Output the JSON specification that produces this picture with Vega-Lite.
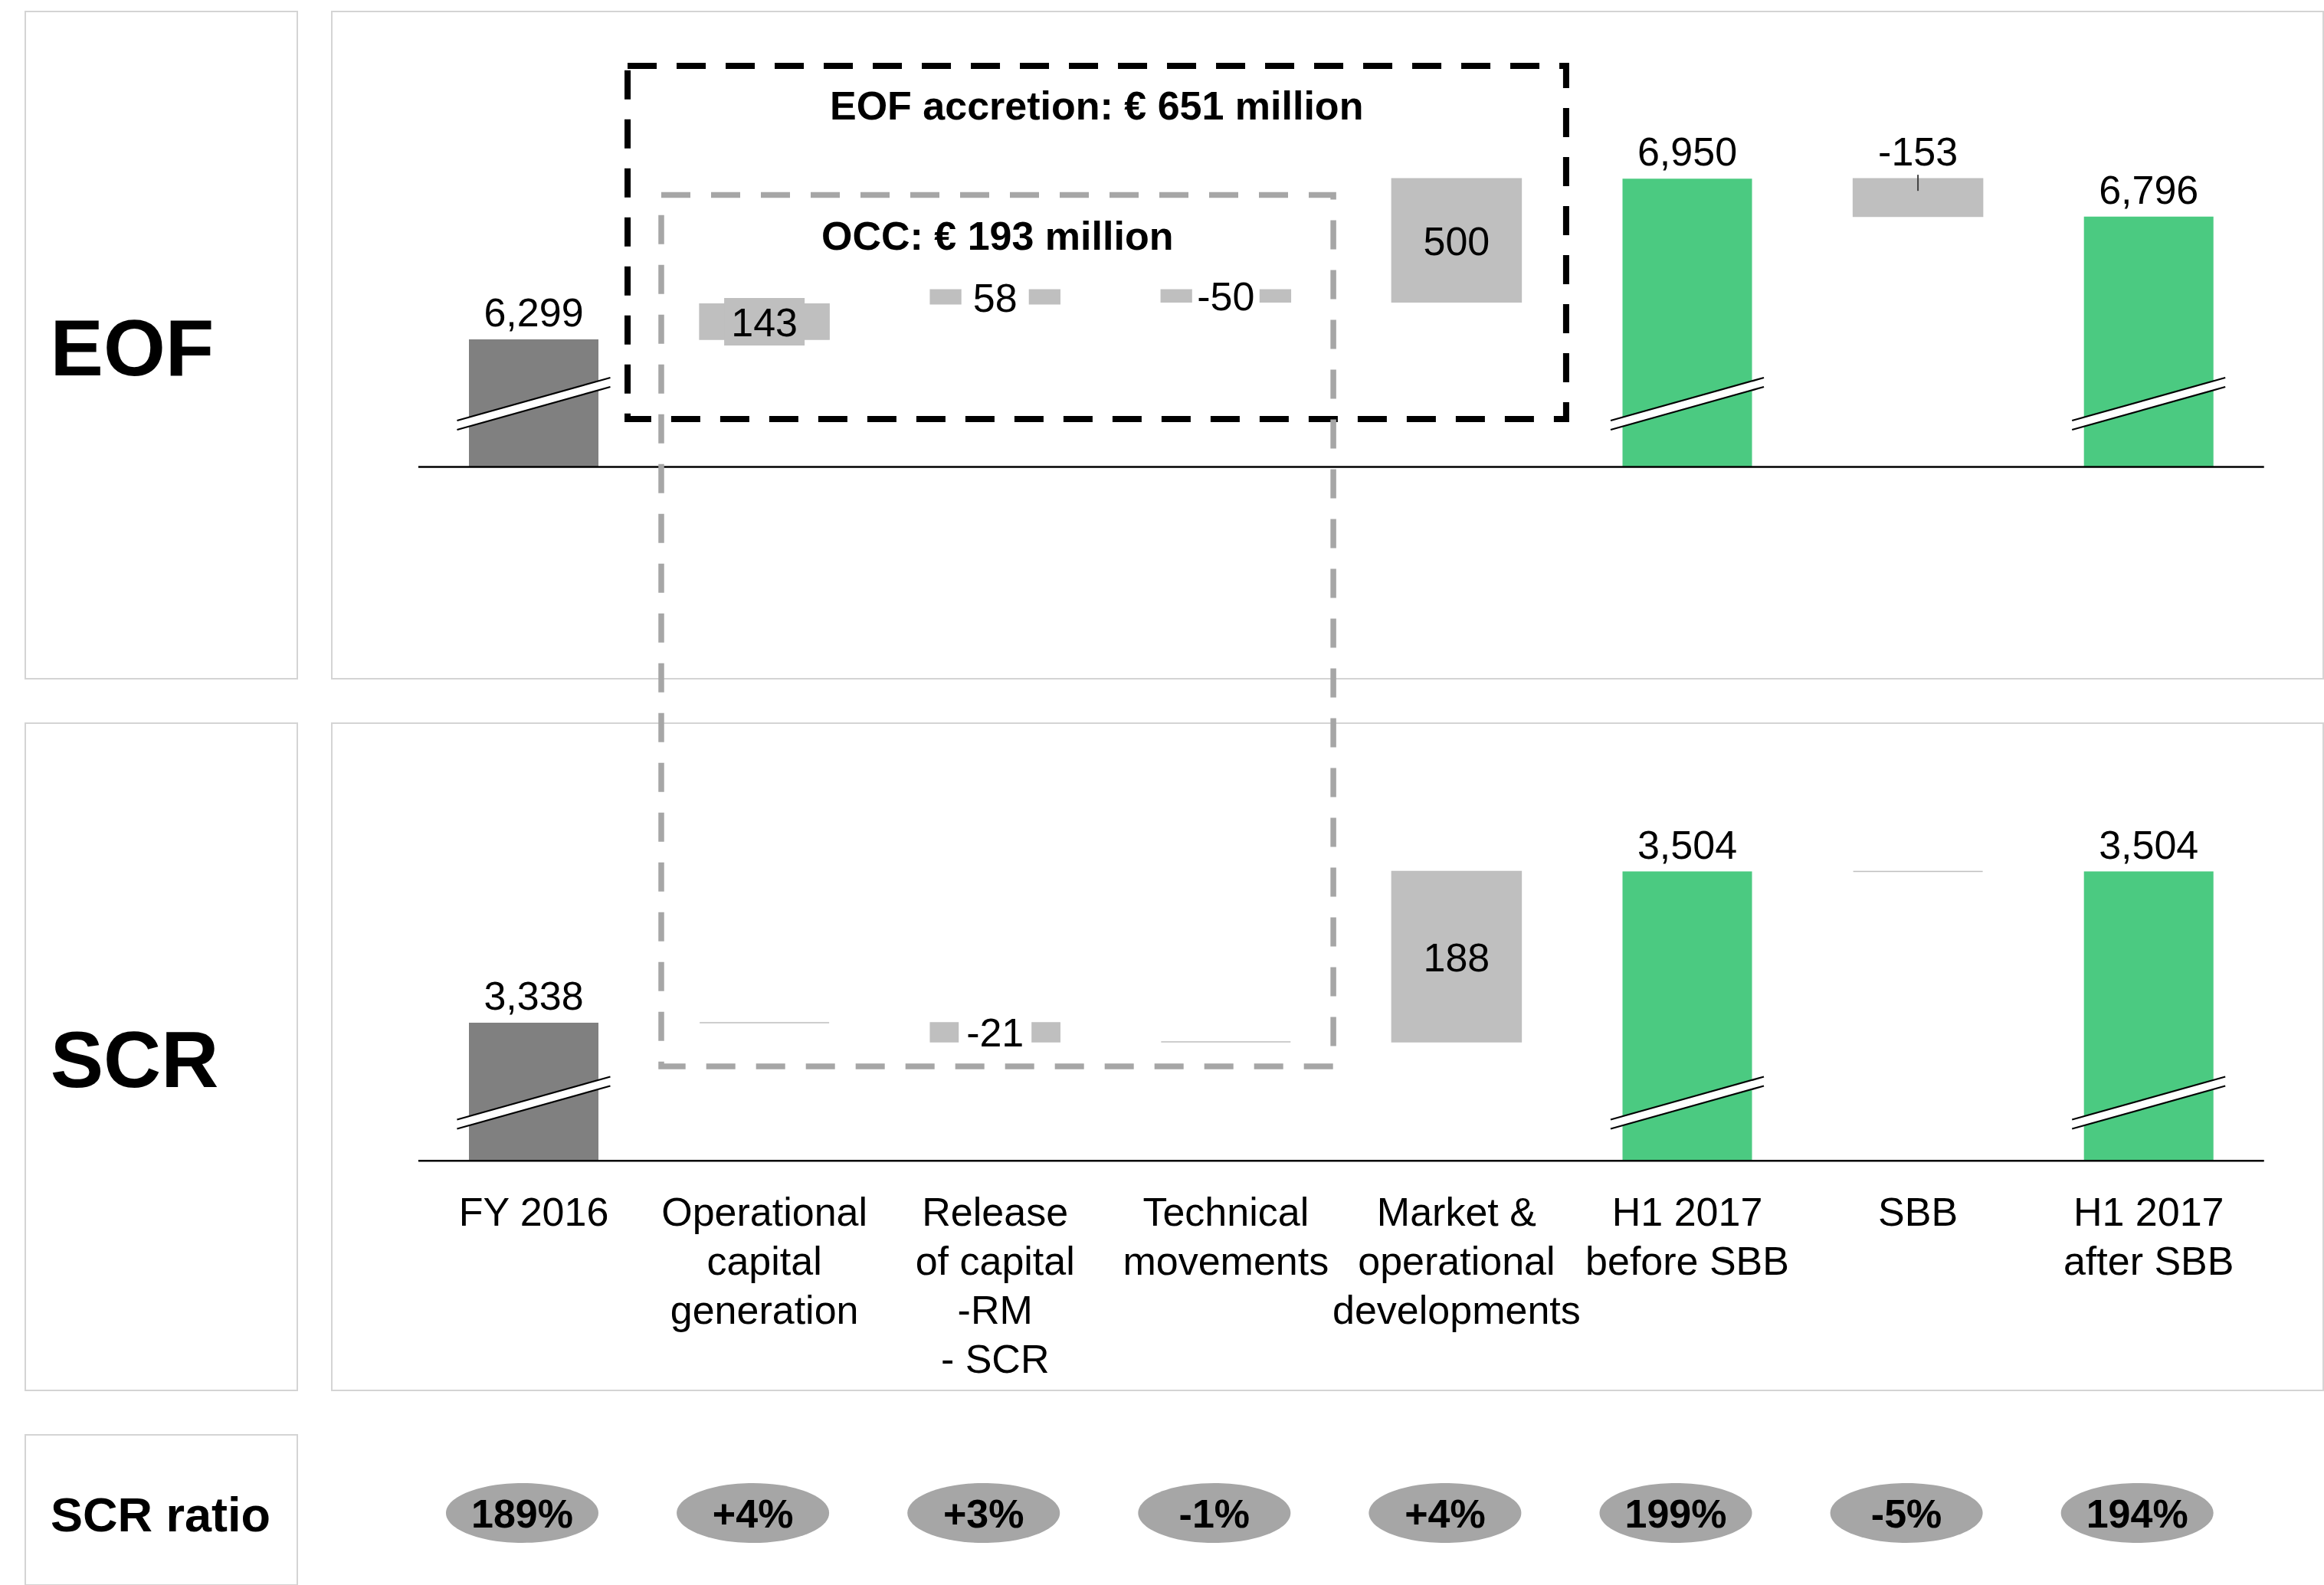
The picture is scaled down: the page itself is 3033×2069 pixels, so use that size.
{
"$schema": "https://vega.github.io/schema/vega-lite/v6.json",
"background": "white",
"padding": {"left": 32, "top": 14, "right": 0, "bottom": 0},
"autosize": {"type": "pad"},
"bounds": "flush",
"columns": 2,
"spacing": {"row": 58, "column": 45},
"config": {
  "view": {"stroke": "#d4d4d4", "strokeWidth": 2, "fill": "white"},
  "font": "Liberation Sans",
  "locale": {"number": {"decimal": ".", "thousands": ",", "grouping": [3], "currency": ["$", ""], "minus": "-"}}
},
"datasets": {
  "eof": [
    {"i": 0, "cat": "FY 2016", "type": "total", "value": 6299},
    {"i": 1, "cat": "Operational\ncapital\ngeneration", "type": "delta", "value": 143, "start": 6299, "end": 6442},
    {"i": 2, "cat": "Release\nof capital\n-RM\n- SCR", "type": "delta", "value": 58, "start": 6442, "end": 6500},
    {"i": 3, "cat": "Technical\nmovements", "type": "delta", "value": -50, "start": 6500, "end": 6450},
    {"i": 4, "cat": "Market &\noperational\ndevelopments", "type": "delta", "value": 500, "start": 6450, "end": 6950},
    {"i": 5, "cat": "H1 2017\nbefore SBB", "type": "total", "value": 6950},
    {"i": 6, "cat": "SBB", "type": "delta", "value": -153, "start": 6950, "end": 6797},
    {"i": 7, "cat": "H1 2017\nafter SBB", "type": "total", "value": 6796}
  ],
  "scr": [
    {"i": 0, "cat": "FY 2016", "type": "total", "value": 3338},
    {"i": 1, "cat": "Operational\ncapital\ngeneration", "type": "delta", "value": 0, "start": 3338, "end": 3338},
    {"i": 2, "cat": "Release\nof capital\n-RM\n- SCR", "type": "delta", "value": -21, "start": 3338, "end": 3317},
    {"i": 3, "cat": "Technical\nmovements", "type": "delta", "value": 0, "start": 3317, "end": 3317},
    {"i": 4, "cat": "Market &\noperational\ndevelopments", "type": "delta", "value": 188, "start": 3317, "end": 3504},
    {"i": 5, "cat": "H1 2017\nbefore SBB", "type": "total", "value": 3504},
    {"i": 6, "cat": "SBB", "type": "delta", "value": 0, "start": 3504, "end": 3504},
    {"i": 7, "cat": "H1 2017\nafter SBB", "type": "total", "value": 3504}
  ],
  "ratio": [
    {"i": 0, "cat": "FY 2016", "type": "total", "ratio": 1.89},
    {"i": 1, "cat": "Operational\ncapital\ngeneration", "type": "delta", "ratio": 0.04},
    {"i": 2, "cat": "Release\nof capital\n-RM\n- SCR", "type": "delta", "ratio": 0.03},
    {"i": 3, "cat": "Technical\nmovements", "type": "delta", "ratio": -0.01},
    {"i": 4, "cat": "Market &\noperational\ndevelopments", "type": "delta", "ratio": 0.04},
    {"i": 5, "cat": "H1 2017\nbefore SBB", "type": "total", "ratio": 1.99},
    {"i": 6, "cat": "SBB", "type": "delta", "ratio": -0.05},
    {"i": 7, "cat": "H1 2017\nafter SBB", "type": "total", "ratio": 1.94}
  ],
  "notes": [
    {"panel": "eof", "kind": "box", "title": "EOF accretion: € 651 million", "x1": 0.407, "x2": 4.475, "y1": 5976, "y2": 7407, "tx": 2.44, "ty": 7239},
    {"panel": "eof", "kind": "title", "title": "OCC: € 193 million", "tx": 2.01, "ty": 6713},
    {"panel": "scr", "kind": "box", "title": "OCC", "x1": 0.553, "x2": 3.466, "y1": 3290, "y2": 4247}
  ]
},
"concat": [
  {
    "width": 355, "height": 871,
    "data": {"values": [{"panel": "EOF"}]},
    "mark": {"type": "text", "fontSize": 104, "fontWeight": "bold", "color": "black", "baseline": "middle", "dx": -38, "dy": 8},
    "encoding": {
      "x": {"field": "panel", "type": "nominal", "axis": null},
      "y": {"field": "panel", "type": "nominal", "axis": null},
      "text": {"field": "panel", "type": "nominal"}
    }
  },
  {
    "width": 2599, "height": 871,
    "resolve": {"scale": {"x": "independent"}},
    "layer": [
      {
        "data": {"name": "eof"},
        "transform": [{"filter": "datum.type == 'total'"}],
        "mark": {"type": "bar"},
        "encoding": {
          "x": {"field": "cat", "type": "nominal", "axis": null, "scale": {"type": "band", "domain": ["FY 2016", "Operational\ncapital\ngeneration", "Release\nof capital\n-RM\n- SCR", "Technical\nmovements", "Market &\noperational\ndevelopments", "H1 2017\nbefore SBB", "SBB", "H1 2017\nafter SBB"], "paddingInner": 0.4387, "paddingOuter": 0.5352, "align": 0.5554, "round": false}},
          "y": {"field": "value", "type": "quantitative", "axis": null, "scale": {"domain": [4924, 7627], "nice": false, "zero": false}},
          "y2": {"datum": 5782},
          "color": {"condition": {"test": "datum.i == 0", "value": "#808080"}, "value": "#4bca81"}
        }
      },
      {
        "data": {"name": "eof"},
        "transform": [{"filter": "datum.type == 'delta'"}],
        "mark": {"type": "bar", "color": "#bfbfbf", "stroke": "#bfbfbf", "strokeWidth": 1.5},
        "encoding": {
          "x": {"field": "cat", "type": "nominal", "axis": null, "scale": {"type": "band", "domain": ["FY 2016", "Operational\ncapital\ngeneration", "Release\nof capital\n-RM\n- SCR", "Technical\nmovements", "Market &\noperational\ndevelopments", "H1 2017\nbefore SBB", "SBB", "H1 2017\nafter SBB"], "paddingInner": 0.4387, "paddingOuter": 0.5352, "align": 0.5554, "round": false}},
          "y": {"field": "start", "type": "quantitative", "axis": null, "scale": {"domain": [4924, 7627], "nice": false, "zero": false}},
          "y2": {"field": "end"}
        }
      },
      {
        "data": {"values": [{}]},
        "mark": {"type": "rule", "color": "black", "strokeWidth": 2.5},
        "encoding": {
          "x": {"datum": -0.5, "type": "quantitative", "axis": null, "scale": {"domain": [-0.8751, 7.7566], "nice": false, "zero": false}},
          "x2": {"datum": 7.5},
          "y": {"datum": 5782, "type": "quantitative", "axis": null, "scale": {"domain": [4924, 7627], "nice": false, "zero": false}}
        }
      },
      {
        "data": {"name": "eof"},
        "transform": [{"filter": "datum.type == 'total'"}],
        "mark": {"type": "rule", "color": "white", "strokeWidth": 11.5, "xOffset": -100, "x2Offset": 100, "yOffset": 28, "y2Offset": -28},
        "encoding": {
          "x": {"field": "i", "type": "quantitative", "axis": null, "scale": {"domain": [-0.8751, 7.7566], "nice": false, "zero": false}},
          "x2": {"field": "i"},
          "y": {"datum": 6038, "type": "quantitative", "axis": null, "scale": {"domain": [4924, 7627], "nice": false, "zero": false}},
          "y2": {"datum": 6038}
        }
      },
      {
        "data": {"name": "eof"},
        "transform": [{"filter": "datum.type == 'total'"}],
        "mark": {"type": "rule", "color": "black", "strokeWidth": 2.2, "xOffset": -100, "x2Offset": 100, "yOffset": 22, "y2Offset": -34},
        "encoding": {
          "x": {"field": "i", "type": "quantitative", "axis": null, "scale": {"domain": [-0.8751, 7.7566], "nice": false, "zero": false}},
          "x2": {"field": "i"},
          "y": {"datum": 6038, "type": "quantitative", "axis": null, "scale": {"domain": [4924, 7627], "nice": false, "zero": false}},
          "y2": {"datum": 6038}
        }
      },
      {
        "data": {"name": "eof"},
        "transform": [{"filter": "datum.type == 'total'"}],
        "mark": {"type": "rule", "color": "black", "strokeWidth": 2.2, "xOffset": -100, "x2Offset": 100, "yOffset": 34, "y2Offset": -22},
        "encoding": {
          "x": {"field": "i", "type": "quantitative", "axis": null, "scale": {"domain": [-0.8751, 7.7566], "nice": false, "zero": false}},
          "x2": {"field": "i"},
          "y": {"datum": 6038, "type": "quantitative", "axis": null, "scale": {"domain": [4924, 7627], "nice": false, "zero": false}},
          "y2": {"datum": 6038}
        }
      },
      {
        "data": {"name": "eof"},
        "transform": [{"filter": "datum.i == 6"}],
        "mark": {"type": "rule", "color": "#404040", "strokeWidth": 2, "yOffset": -5, "y2Offset": 16},
        "encoding": {
          "x": {"field": "i", "type": "quantitative", "axis": null, "scale": {"domain": [-0.8751, 7.7566], "nice": false, "zero": false}},
          "y": {"field": "start", "type": "quantitative", "axis": null, "scale": {"domain": [4924, 7627], "nice": false, "zero": false}},
          "y2": {"field": "start"}
        }
      },
      {
        "data": {"name": "eof"},
        "transform": [{"filter": {"field": "i", "oneOf": [2, 3]}}, {"fold": ["start", "end"], "as": ["k", "v"]}],
        "mark": {"type": "tick", "color": "white", "size": 88, "thickness": 26, "opacity": 1},
        "encoding": {
          "x": {"field": "cat", "type": "nominal", "axis": null, "scale": {"type": "band", "domain": ["FY 2016", "Operational\ncapital\ngeneration", "Release\nof capital\n-RM\n- SCR", "Technical\nmovements", "Market &\noperational\ndevelopments", "H1 2017\nbefore SBB", "SBB", "H1 2017\nafter SBB"], "paddingInner": 0.4387, "paddingOuter": 0.5352, "align": 0.5554, "round": false}},
          "y": {"aggregate": "mean", "field": "v", "type": "quantitative", "axis": null, "scale": {"domain": [4924, 7627], "nice": false, "zero": false}}
        }
      },
      {
        "data": {"name": "eof"},
        "transform": [{"filter": "datum.i == 1"}, {"fold": ["start", "end"], "as": ["k", "v"]}],
        "mark": {"type": "tick", "color": "#bfbfbf", "size": 105, "thickness": 62, "opacity": 1},
        "encoding": {
          "x": {"field": "cat", "type": "nominal", "axis": null, "scale": {"type": "band", "domain": ["FY 2016", "Operational\ncapital\ngeneration", "Release\nof capital\n-RM\n- SCR", "Technical\nmovements", "Market &\noperational\ndevelopments", "H1 2017\nbefore SBB", "SBB", "H1 2017\nafter SBB"], "paddingInner": 0.4387, "paddingOuter": 0.5352, "align": 0.5554, "round": false}},
          "y": {"aggregate": "mean", "field": "v", "type": "quantitative", "axis": null, "scale": {"domain": [4924, 7627], "nice": false, "zero": false}}
        }
      },
      {
        "data": {"name": "eof"},
        "transform": [{"filter": "datum.type == 'total'"}],
        "mark": {"type": "text", "fontSize": 52, "color": "black", "baseline": "alphabetic", "dy": -17},
        "encoding": {
          "x": {"field": "cat", "type": "nominal", "axis": null, "scale": {"type": "band", "domain": ["FY 2016", "Operational\ncapital\ngeneration", "Release\nof capital\n-RM\n- SCR", "Technical\nmovements", "Market &\noperational\ndevelopments", "H1 2017\nbefore SBB", "SBB", "H1 2017\nafter SBB"], "paddingInner": 0.4387, "paddingOuter": 0.5352, "align": 0.5554, "round": false}},
          "y": {"field": "value", "type": "quantitative", "axis": null, "scale": {"domain": [4924, 7627], "nice": false, "zero": false}},
          "text": {"field": "value", "type": "quantitative", "format": ","}
        }
      },
      {
        "data": {"name": "eof"},
        "transform": [{"filter": "datum.i == 6"}],
        "mark": {"type": "text", "fontSize": 52, "color": "black", "baseline": "alphabetic", "dy": -17},
        "encoding": {
          "x": {"field": "cat", "type": "nominal", "axis": null, "scale": {"type": "band", "domain": ["FY 2016", "Operational\ncapital\ngeneration", "Release\nof capital\n-RM\n- SCR", "Technical\nmovements", "Market &\noperational\ndevelopments", "H1 2017\nbefore SBB", "SBB", "H1 2017\nafter SBB"], "paddingInner": 0.4387, "paddingOuter": 0.5352, "align": 0.5554, "round": false}},
          "y": {"field": "start", "type": "quantitative", "axis": null, "scale": {"domain": [4924, 7627], "nice": false, "zero": false}},
          "text": {"field": "value", "type": "quantitative", "format": "d"}
        }
      },
      {
        "data": {"name": "eof"},
        "transform": [{"filter": {"field": "i", "oneOf": [1, 2, 3, 4]}}, {"fold": ["start", "end"], "as": ["k", "v"]}],
        "mark": {"type": "text", "fontSize": 52, "color": "black", "baseline": "middle", "dy": 3},
        "encoding": {
          "x": {"field": "cat", "type": "nominal", "axis": null, "scale": {"type": "band", "domain": ["FY 2016", "Operational\ncapital\ngeneration", "Release\nof capital\n-RM\n- SCR", "Technical\nmovements", "Market &\noperational\ndevelopments", "H1 2017\nbefore SBB", "SBB", "H1 2017\nafter SBB"], "paddingInner": 0.4387, "paddingOuter": 0.5352, "align": 0.5554, "round": false}},
          "y": {"aggregate": "mean", "field": "v", "type": "quantitative", "axis": null, "scale": {"domain": [4924, 7627], "nice": false, "zero": false}},
          "text": {"field": "value", "type": "quantitative", "format": "d"}
        }
      },
      {
        "data": {"name": "notes"},
        "transform": [{"filter": "datum.panel == 'eof' && datum.kind == 'box'"}],
        "mark": {"type": "rect", "fill": "transparent", "stroke": "black", "strokeWidth": 8, "strokeDash": [38, 26]},
        "encoding": {
          "x": {"field": "x1", "type": "quantitative", "axis": null, "scale": {"domain": [-0.8751, 7.7566], "nice": false, "zero": false}},
          "x2": {"field": "x2"},
          "y": {"field": "y1", "type": "quantitative", "axis": null, "scale": {"domain": [4924, 7627], "nice": false, "zero": false}},
          "y2": {"field": "y2"}
        }
      },
      {
        "data": {"name": "notes"},
        "transform": [{"filter": "datum.panel == 'eof'"}],
        "mark": {"type": "text", "fontSize": 52, "fontWeight": "bold", "color": "black", "baseline": "middle"},
        "encoding": {
          "x": {"field": "tx", "type": "quantitative", "axis": null, "scale": {"domain": [-0.8751, 7.7566], "nice": false, "zero": false}},
          "y": {"field": "ty", "type": "quantitative", "axis": null, "scale": {"domain": [4924, 7627], "nice": false, "zero": false}},
          "text": {"field": "title", "type": "nominal"}
        }
      }
    ]
  },
  {
    "width": 355, "height": 871,
    "data": {"values": [{"panel": "SCR"}]},
    "mark": {"type": "text", "fontSize": 104, "fontWeight": "bold", "color": "black", "baseline": "middle", "dx": -35, "dy": 8},
    "encoding": {
      "x": {"field": "panel", "type": "nominal", "axis": null},
      "y": {"field": "panel", "type": "nominal", "axis": null},
      "text": {"field": "panel", "type": "nominal"}
    }
  },
  {
    "width": 2599, "height": 871,
    "resolve": {"scale": {"x": "independent"}},
    "layer": [
      {
        "data": {"name": "scr"},
        "transform": [{"filter": "datum.type == 'total'"}],
        "mark": {"type": "bar"},
        "encoding": {
          "x": {"field": "cat", "type": "nominal", "axis": null, "scale": {"type": "band", "domain": ["FY 2016", "Operational\ncapital\ngeneration", "Release\nof capital\n-RM\n- SCR", "Technical\nmovements", "Market &\noperational\ndevelopments", "H1 2017\nbefore SBB", "SBB", "H1 2017\nafter SBB"], "paddingInner": 0.4387, "paddingOuter": 0.5352, "align": 0.5554, "round": false}},
          "y": {"field": "value", "type": "quantitative", "axis": null, "scale": {"domain": [2934.1, 3666.9], "nice": false, "zero": false}},
          "y2": {"datum": 3186.2},
          "color": {"condition": {"test": "datum.i == 0", "value": "#808080"}, "value": "#4bca81"}
        }
      },
      {
        "data": {"name": "scr"},
        "transform": [{"filter": "datum.type == 'delta'"}],
        "mark": {"type": "bar", "color": "#bfbfbf", "stroke": "#bfbfbf", "strokeWidth": 1.5},
        "encoding": {
          "x": {"field": "cat", "type": "nominal", "scale": {"type": "band", "domain": ["FY 2016", "Operational\ncapital\ngeneration", "Release\nof capital\n-RM\n- SCR", "Technical\nmovements", "Market &\noperational\ndevelopments", "H1 2017\nbefore SBB", "SBB", "H1 2017\nafter SBB"], "paddingInner": 0.4387, "paddingOuter": 0.5352, "align": 0.5554, "round": false},
            "axis": {"orient": "bottom", "offset": -300, "domain": false, "ticks": false, "tickSize": 0, "labelPadding": 43, "labelFontSize": 52, "labelFont": "Liberation Sans", "labelColor": "black", "labelExpr": "split(datum.label, '\\n')", "labelLineHeight": 64, "labelBaseline": "top", "labelAngle": 0, "labelLimit": 0, "labelOverlap": false, "labelBound": false, "labelFlush": false, "grid": false, "title": null}},
          "y": {"field": "start", "type": "quantitative", "axis": null, "scale": {"domain": [2934.1, 3666.9], "nice": false, "zero": false}},
          "y2": {"field": "end"}
        }
      },
      {
        "data": {"values": [{}]},
        "mark": {"type": "rule", "color": "black", "strokeWidth": 2.5},
        "encoding": {
          "x": {"datum": -0.5, "type": "quantitative", "axis": null, "scale": {"domain": [-0.8751, 7.7566], "nice": false, "zero": false}},
          "x2": {"datum": 7.5},
          "y": {"datum": 3186.2, "type": "quantitative", "axis": null, "scale": {"domain": [2934.1, 3666.9], "nice": false, "zero": false}}
        }
      },
      {
        "data": {"name": "scr"},
        "transform": [{"filter": "datum.type == 'total'"}],
        "mark": {"type": "rule", "color": "white", "strokeWidth": 11.5, "xOffset": -100, "x2Offset": 100, "yOffset": 28, "y2Offset": -28},
        "encoding": {
          "x": {"field": "i", "type": "quantitative", "axis": null, "scale": {"domain": [-0.8751, 7.7566], "nice": false, "zero": false}},
          "x2": {"field": "i"},
          "y": {"datum": 3250, "type": "quantitative", "axis": null, "scale": {"domain": [2934.1, 3666.9], "nice": false, "zero": false}},
          "y2": {"datum": 3250}
        }
      },
      {
        "data": {"name": "scr"},
        "transform": [{"filter": "datum.type == 'total'"}],
        "mark": {"type": "rule", "color": "black", "strokeWidth": 2.2, "xOffset": -100, "x2Offset": 100, "yOffset": 22, "y2Offset": -34},
        "encoding": {
          "x": {"field": "i", "type": "quantitative", "axis": null, "scale": {"domain": [-0.8751, 7.7566], "nice": false, "zero": false}},
          "x2": {"field": "i"},
          "y": {"datum": 3250, "type": "quantitative", "axis": null, "scale": {"domain": [2934.1, 3666.9], "nice": false, "zero": false}},
          "y2": {"datum": 3250}
        }
      },
      {
        "data": {"name": "scr"},
        "transform": [{"filter": "datum.type == 'total'"}],
        "mark": {"type": "rule", "color": "black", "strokeWidth": 2.2, "xOffset": -100, "x2Offset": 100, "yOffset": 34, "y2Offset": -22},
        "encoding": {
          "x": {"field": "i", "type": "quantitative", "axis": null, "scale": {"domain": [-0.8751, 7.7566], "nice": false, "zero": false}},
          "x2": {"field": "i"},
          "y": {"datum": 3250, "type": "quantitative", "axis": null, "scale": {"domain": [2934.1, 3666.9], "nice": false, "zero": false}},
          "y2": {"datum": 3250}
        }
      },
      {
        "data": {"name": "scr"},
        "transform": [{"filter": "datum.i == 2"}, {"fold": ["start", "end"], "as": ["k", "v"]}],
        "mark": {"type": "tick", "color": "white", "size": 95, "thickness": 30, "opacity": 1},
        "encoding": {
          "x": {"field": "cat", "type": "nominal", "axis": null, "scale": {"type": "band", "domain": ["FY 2016", "Operational\ncapital\ngeneration", "Release\nof capital\n-RM\n- SCR", "Technical\nmovements", "Market &\noperational\ndevelopments", "H1 2017\nbefore SBB", "SBB", "H1 2017\nafter SBB"], "paddingInner": 0.4387, "paddingOuter": 0.5352, "align": 0.5554, "round": false}},
          "y": {"aggregate": "mean", "field": "v", "type": "quantitative", "axis": null, "scale": {"domain": [2934.1, 3666.9], "nice": false, "zero": false}}
        }
      },
      {
        "data": {"name": "scr"},
        "transform": [{"filter": "datum.type == 'total'"}],
        "mark": {"type": "text", "fontSize": 52, "color": "black", "baseline": "alphabetic", "dy": -17},
        "encoding": {
          "x": {"field": "cat", "type": "nominal", "axis": null, "scale": {"type": "band", "domain": ["FY 2016", "Operational\ncapital\ngeneration", "Release\nof capital\n-RM\n- SCR", "Technical\nmovements", "Market &\noperational\ndevelopments", "H1 2017\nbefore SBB", "SBB", "H1 2017\nafter SBB"], "paddingInner": 0.4387, "paddingOuter": 0.5352, "align": 0.5554, "round": false}},
          "y": {"field": "value", "type": "quantitative", "axis": null, "scale": {"domain": [2934.1, 3666.9], "nice": false, "zero": false}},
          "text": {"field": "value", "type": "quantitative", "format": ","}
        }
      },
      {
        "data": {"name": "scr"},
        "transform": [{"filter": {"field": "i", "oneOf": [2, 4]}}, {"fold": ["start", "end"], "as": ["k", "v"]}],
        "mark": {"type": "text", "fontSize": 52, "color": "black", "baseline": "middle", "dy": 3},
        "encoding": {
          "x": {"field": "cat", "type": "nominal", "axis": null, "scale": {"type": "band", "domain": ["FY 2016", "Operational\ncapital\ngeneration", "Release\nof capital\n-RM\n- SCR", "Technical\nmovements", "Market &\noperational\ndevelopments", "H1 2017\nbefore SBB", "SBB", "H1 2017\nafter SBB"], "paddingInner": 0.4387, "paddingOuter": 0.5352, "align": 0.5554, "round": false}},
          "y": {"aggregate": "mean", "field": "v", "type": "quantitative", "axis": null, "scale": {"domain": [2934.1, 3666.9], "nice": false, "zero": false}},
          "text": {"field": "value", "type": "quantitative", "format": "d"}
        }
      },
      {
        "data": {"name": "notes"},
        "transform": [{"filter": "datum.panel == 'scr' && datum.kind == 'box'"}],
        "mark": {"type": "rect", "fill": "transparent", "stroke": "#a6a6a6", "strokeWidth": 7.5, "strokeDash": [38, 27]},
        "encoding": {
          "x": {"field": "x1", "type": "quantitative", "axis": null, "scale": {"domain": [-0.8751, 7.7566], "nice": false, "zero": false}},
          "x2": {"field": "x2"},
          "y": {"field": "y1", "type": "quantitative", "axis": null, "scale": {"domain": [2934.1, 3666.9], "nice": false, "zero": false}},
          "y2": {"field": "y2"}
        }
      }
    ]
  },
  {
    "width": 355, "height": 196,
    "data": {"values": [{"panel": "SCR ratio"}]},
    "mark": {"type": "text", "fontSize": 63, "fontWeight": "bold", "color": "black", "baseline": "middle", "dx": -1, "dy": 9},
    "encoding": {
      "x": {"field": "panel", "type": "nominal", "axis": null},
      "y": {"field": "panel", "type": "nominal", "axis": null},
      "text": {"field": "panel", "type": "nominal"}
    }
  },
  {
    "width": 2599, "height": 196,
    "view": {"stroke": null, "fill": null},
    "data": {"name": "ratio"},
    "layer": [
      {
        "mark": {"type": "point", "shape": "M-1,0A1,0.392,0,1,1,1,0A1,0.392,0,1,1,-1,0Z", "size": 39601, "filled": true, "color": "#a6a6a6", "opacity": 1, "strokeWidth": 0, "xOffset": -15, "yOffset": 4},
        "encoding": {
          "x": {"field": "cat", "type": "nominal", "axis": null, "scale": {"type": "band", "domain": ["FY 2016", "Operational\ncapital\ngeneration", "Release\nof capital\n-RM\n- SCR", "Technical\nmovements", "Market &\noperational\ndevelopments", "H1 2017\nbefore SBB", "SBB", "H1 2017\nafter SBB"], "paddingInner": 0.4387, "paddingOuter": 0.5352, "align": 0.5554, "round": false}}
        }
      },
      {
        "transform": [{"filter": "datum.type == 'total'"}],
        "mark": {"type": "text", "fontSize": 52, "fontWeight": "bold", "color": "black", "baseline": "middle", "dy": 3, "xOffset": -15, "yOffset": 4},
        "encoding": {
          "x": {"field": "cat", "type": "nominal", "axis": null},
          "text": {"field": "ratio", "type": "quantitative", "format": ".0%"}
        }
      },
      {
        "transform": [{"filter": "datum.type == 'delta'"}],
        "mark": {"type": "text", "fontSize": 52, "fontWeight": "bold", "color": "black", "baseline": "middle", "dy": 3, "xOffset": -15, "yOffset": 4},
        "encoding": {
          "x": {"field": "cat", "type": "nominal", "axis": null},
          "text": {"field": "ratio", "type": "quantitative", "format": "+.0%"}
        }
      }
    ]
  }
]
}
